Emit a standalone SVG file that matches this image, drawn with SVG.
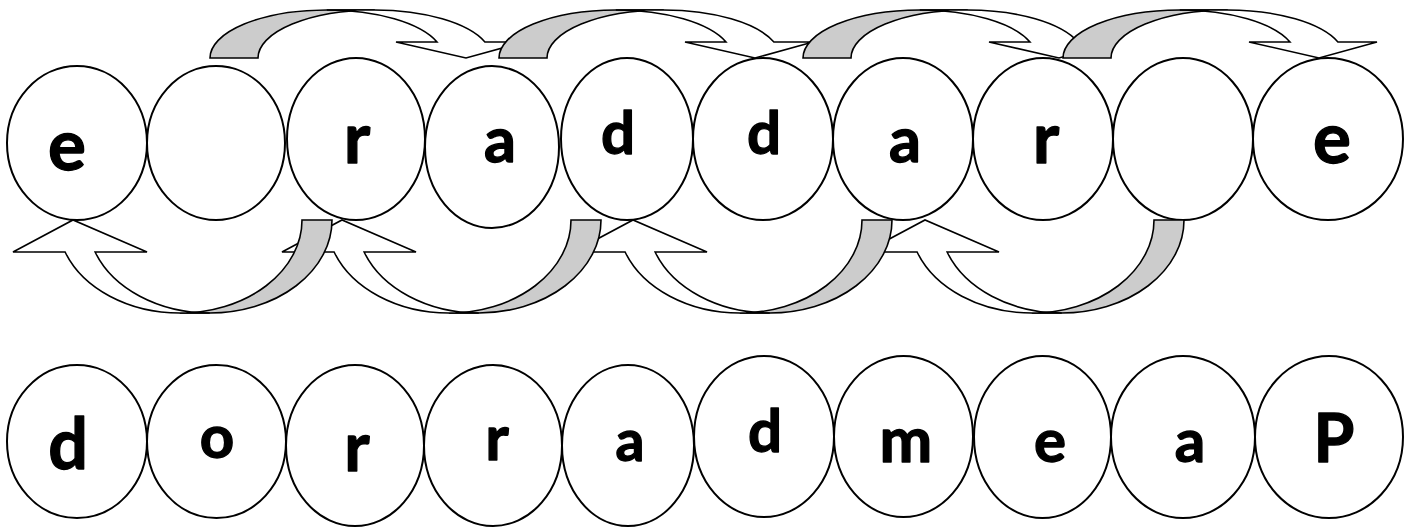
<svg xmlns="http://www.w3.org/2000/svg" width="1404" height="527" viewBox="0 0 1404 527">
<defs>
<style>
.node ellipse{fill:#ffffff;stroke:#000000;stroke-width:2}
.node text{font-family:Lato,"Open Sans","Liberation Sans",sans-serif;font-weight:bold;text-anchor:middle;fill:#000000;stroke:#000000;stroke-width:1.3;stroke-linejoin:round}
.back{fill:#cccccc;stroke:#000000;stroke-width:1.6;stroke-linejoin:miter}
.front{fill:#ffffff;stroke:#000000;stroke-width:1.6;stroke-linejoin:miter}
</style>
<g id="topArrow">
<path class="back" d="M0,0 A116.8,48 0 0 1 116.8,-48 L164.8,-48 A116.8,48 0 0 0 48,0 Z"/>
<path class="front" d="M116.8,-48 A116.8,48 0 0 1 227,-16 L186,-16 L256,0 L314,-16 L274.9,-16 A116.8,48 0 0 0 164.8,-48 Z"/>
</g>
<g id="bottomArrow">
<path class="back" d="M166.8,313 A122.2,93 0 0 0 289,220 L319,220 A122.2,93 0 0 1 196.8,313 Z"/>
<path class="front" d="M52.1,252 L0,252 L60,220 L134,252 L82.1,252 A122.2,93 0 0 0 196.8,313 L166.8,313 A122.2,93 0 0 1 52.1,252 Z"/>
</g>
</defs>
<rect width="1404" height="527" fill="#ffffff"/>

<g id="top-1" class="node"><ellipse cx="77" cy="143" rx="70" ry="77"/><text x="67" y="170" font-size="71">e</text></g>
<g id="top-2" class="node"><ellipse cx="216" cy="143" rx="69" ry="77"/></g>
<g id="top-3" class="node"><ellipse cx="356" cy="139" rx="69" ry="81"/><text x="357" y="163" font-size="71">r</text></g>
<g id="top-4" class="node"><ellipse cx="492" cy="147" rx="67" ry="81"/><text x="500" y="162" font-size="63">a</text></g>
<g id="top-5" class="node"><ellipse cx="627" cy="139" rx="66" ry="81"/><text x="618" y="154" font-size="60">d</text></g>
<g id="top-6" class="node"><ellipse cx="763" cy="139" rx="70" ry="81"/><text x="764" y="154" font-size="60">d</text></g>
<g id="top-7" class="node"><ellipse cx="903" cy="139" rx="70" ry="81"/><text x="905" y="162" font-size="63">a</text></g>
<g id="top-8" class="node"><ellipse cx="1043" cy="139" rx="70" ry="81"/><text x="1046" y="163" font-size="71">r</text></g>
<g id="top-9" class="node"><ellipse cx="1183" cy="139" rx="70" ry="81"/></g>
<g id="top-10" class="node"><ellipse cx="1328" cy="139" rx="75" ry="81"/><text x="1332" y="163" font-size="71">e</text></g>

<g id="bottom-1" class="node"><ellipse cx="77" cy="441.5" rx="70" ry="76.5"/><text x="68" y="469" font-size="70">d</text></g>
<g id="bottom-2" class="node"><ellipse cx="216.5" cy="441.5" rx="69.5" ry="76.5"/><text x="217" y="458" font-size="60">o</text></g>
<g id="bottom-3" class="node"><ellipse cx="355" cy="445.5" rx="69" ry="80.5"/><text x="357" y="471" font-size="68">r</text></g>
<g id="bottom-4" class="node"><ellipse cx="493" cy="445.5" rx="69" ry="80.5"/><text x="497" y="460" font-size="63">r</text></g>
<g id="bottom-5" class="node"><ellipse cx="628" cy="445.5" rx="66" ry="80.5"/><text x="630" y="461" font-size="57">a</text></g>
<g id="bottom-6" class="node"><ellipse cx="764" cy="436.5" rx="70" ry="80.5"/><text x="765" y="452" font-size="60">d</text></g>
<g id="bottom-7" class="node"><ellipse cx="903.5" cy="436.5" rx="69.5" ry="80.5"/><text x="906" y="462" font-size="63">m</text></g>
<g id="bottom-8" class="node"><ellipse cx="1042.5" cy="437" rx="68.5" ry="81"/><text x="1050" y="462" font-size="60">e</text></g>
<g id="bottom-9" class="node"><ellipse cx="1183" cy="437" rx="72" ry="81"/><text x="1190" y="462" font-size="60">a</text></g>
<g id="bottom-10" class="node"><ellipse cx="1329" cy="437" rx="74" ry="81"/><text x="1334" y="462" font-size="66">P</text></g>

<g id="connectors">
<use href="#topArrow" transform="translate(210,58)"/>
<use href="#topArrow" transform="translate(499,58)"/>
<use href="#topArrow" transform="translate(803,58)"/>
<use href="#topArrow" transform="translate(1063,58)"/>
<use href="#bottomArrow" transform="translate(865,0)"/>
<use href="#bottomArrow" transform="translate(573,0)"/>
<use href="#bottomArrow" transform="translate(282,0)"/>
<use href="#bottomArrow" transform="translate(13,0)"/>
</g>
</svg>
